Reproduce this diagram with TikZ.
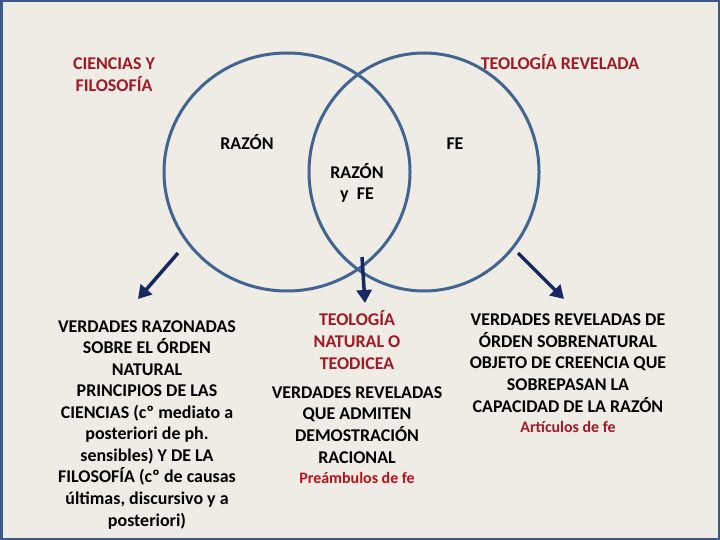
\documentclass[tikz,border=0pt]{standalone}
\usepackage{fontspec}
\setmainfont{Carlito}
\usetikzlibrary{arrows.meta,shapes.geometric}
\definecolor{bg}{RGB}{238,236,228}
\definecolor{ring}{RGB}{66,100,145}
\definecolor{arr}{RGB}{22,40,95}
\definecolor{dred}{RGB}{160,25,35}
\definecolor{bred}{RGB}{190,15,25}
\definecolor{frame}{RGB}{60,90,140}
\begin{document}
\begin{tikzpicture}[x=1bp,y=-1bp,
  txt/.style={font=\fontsize{18}{21.6}\selectfont\bfseries, align=center, inner sep=0pt, anchor=base},
  small/.style={font=\fontsize{16}{19}\selectfont\bfseries, align=center, inner sep=0pt, anchor=base},
  ringstyle/.style={ellipse, draw=ring, line width=3bp, inner sep=0pt},
  arrowstyle/.style={draw=arr, line width=3.5bp, -{Triangle[length=13bp,width=15bp]}}]
\fill[bg] (0,0) rectangle (720,540);
\useasboundingbox (0,0) rectangle (720,540);
\draw[frame, line width=2.5bp] (1.25,1.25) rectangle (718.75,538.75);
% circles
\node[ringstyle, minimum width=246bp, minimum height=238bp] (L) at (287,172) {};
\node[ringstyle, minimum width=230bp, minimum height=238bp] (R) at (424,172) {};
% labels (anchor base = baseline of last line)
\node[txt, text=dred, font=\fontsize{18}{23}\selectfont\bfseries] (cf) at (114,92) {CIENCIAS Y\\FILOSOFÍA};
\node[txt, text=dred] (tr) at (560,70) {TEOLOGÍA REVELADA};
\node[txt] (raz) at (247,150) {RAZÓN};
\node[txt] (fe) at (455,150) {FE};
\node[txt] (ryf) at (357,200) {RAZÓN\\y\ \ FE};
% text blocks
\node[txt] (lt) at (147,526) {VERDADES RAZONADAS\\SOBRE EL ÓRDEN\\NATURAL\\PRINCIPIOS DE LAS\\CIENCIAS (cº mediato a\\posteriori de ph.\\sensibles) Y DE LA\\FILOSOFÍA (cº de causas\\últimas, discursivo y a\\posteriori)};
\node[txt, text=dred] (mt) at (357,369) {TEOLOGÍA\\NATURAL O\\TEODICEA};
\node[txt] (mb) at (357,463) {VERDADES REVELADAS\\QUE ADMITEN\\DEMOSTRACIÓN\\RACIONAL};
\node[small, text=bred] (pf) at (357,483) {Preámbulos de fe};
\node[txt] (rt) at (568,412) {VERDADES REVELADAS DE\\ÓRDEN SOBRENATURAL\\OBJETO DE CREENCIA QUE\\SOBREPASAN LA\\CAPACIDAD DE LA RAZÓN};
\node[small, text=dred] (af) at (568,432) {Artículos de fe};
% arrows
\coordinate (a1s) at (178,253);
\coordinate (a1e) at (138,299);
\coordinate (a2s) at (362,257);
\coordinate (a2e) at (365,303);
\coordinate (a3s) at (518,253);
\coordinate (a3e) at (564,299);
\draw[arrowstyle] (a1s) -- (a1e);
\draw[arrowstyle] (a2s) -- (a2e);
\draw[arrowstyle] (a3s) -- (a3e);
\end{tikzpicture}
\end{document}
